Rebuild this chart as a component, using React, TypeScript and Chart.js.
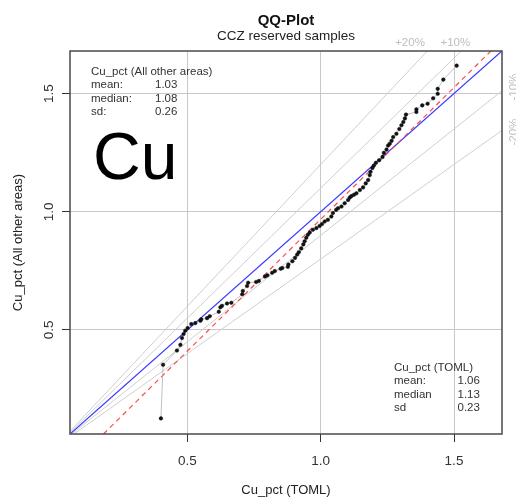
import React, { useEffect, useRef } from "react";
import { Chart, registerables } from "chart.js";

Chart.register(...registerables);

// Quantiles of Cu_pct (TOML) -> x
const tomlQuantiles = [
  0.401, 0.409, 0.461, 0.474, 0.48, 0.486, 0.492, 0.501, 0.515, 0.53, 0.549, 0.552, 0.574, 0.584,
  0.618, 0.624, 0.63, 0.649, 0.665, 0.706, 0.708, 0.724, 0.728, 0.758, 0.768, 0.791, 0.8, 0.818,
  0.828, 0.85, 0.856, 0.877, 0.879, 0.894, 0.904, 0.912, 0.918, 0.927, 0.935, 0.94, 0.946, 0.952,
  0.959, 0.971, 0.984, 0.996, 1.005, 1.015, 1.027, 1.04, 1.046, 1.058, 1.065, 1.078, 1.09, 1.103,
  1.109, 1.115, 1.125, 1.134, 1.147, 1.159, 1.169, 1.178, 1.184, 1.187, 1.194, 1.199, 1.207, 1.219,
  1.232, 1.237, 1.247, 1.253, 1.259, 1.266, 1.272, 1.284, 1.295, 1.303, 1.31, 1.316, 1.32, 1.359,
  1.359, 1.381, 1.401, 1.422, 1.439, 1.439, 1.46, 1.51,
];
// Quantiles of Cu_pct (All other areas) -> y
const otherQuantiles = [
  0.126, 0.353, 0.413, 0.437, 0.466, 0.483, 0.497, 0.508, 0.525, 0.529, 0.539, 0.545, 0.55, 0.558,
  0.577, 0.596, 0.602, 0.612, 0.615, 0.651, 0.665, 0.686, 0.7, 0.703, 0.707, 0.726, 0.731, 0.742,
  0.749, 0.759, 0.762, 0.767, 0.777, 0.791, 0.805, 0.819, 0.829, 0.845, 0.862, 0.875, 0.89, 0.903,
  0.912, 0.924, 0.931, 0.94, 0.948, 0.959, 0.966, 0.98, 0.995, 1.008, 1.015, 1.022, 1.036, 1.05,
  1.06, 1.066, 1.072, 1.078, 1.092, 1.103, 1.12, 1.134, 1.155, 1.169, 1.185, 1.195, 1.207, 1.218,
  1.232, 1.249, 1.263, 1.28, 1.288, 1.3, 1.316, 1.33, 1.35, 1.366, 1.38, 1.395, 1.411, 1.422,
  1.433, 1.45, 1.457, 1.48, 1.499, 1.52, 1.559, 1.618,
];

const axisMin = 0.06;
const axisMax = 1.68;
const tickValues = [0.5, 1.0, 1.5];
const tickLabels = ["0.5", "1.0", "1.5"];

const envelopeRatios = [1.2, 1.1, 0.9, 0.8];
const topLabels = ["+20%", "+10%"];
const topLabelX = [1.335, 1.505];
const rightLabels = ["-10%", "-20%"];
const rightLabelY = [1.527, 1.337];

const fitSlope = 1.115;
const fitIntercept = -0.147;

const titleText = "QQ-Plot";
const subtitleText = "CCZ reserved samples";
const xTitle = "Cu_pct (TOML)";
const yTitle = "Cu_pct (All other areas)";
const elementText = "Cu";

const otherStatTitle = "Cu_pct (All other areas)";
const otherStatNames = ["mean:", "median:", "sd:"];
const otherStatValues = ["1.03", "1.08", "0.26"];
const tomlStatTitle = "Cu_pct (TOML)";
const tomlStatNames = ["mean:", "median", "sd"];
const tomlStatValues = ["1.06", "1.13", "0.23"];

const FONT = '"Liberation Sans", Arial, Helvetica, sans-serif';

const annotatePlugin = {
  id: "annotate",
  afterDraw(chart: any) {
    const ctx = chart.ctx as CanvasRenderingContext2D;
    const area = chart.chartArea;
    const xs = chart.scales.x;
    const ys = chart.scales.y;
    ctx.save();

    // box
    ctx.strokeStyle = "#4a4a4a";
    ctx.lineWidth = 1.5;
    ctx.strokeRect(area.left, area.top, area.right - area.left, area.bottom - area.top);

    // titles
    ctx.fillStyle = "#111";
    ctx.textAlign = "center";
    ctx.textBaseline = "alphabetic";
    const cx = (area.left + area.right) / 2;
    ctx.font = `bold 15px ${FONT}`;
    ctx.fillText(titleText, cx, 25);
    ctx.font = `13.5px ${FONT}`;
    ctx.fillStyle = "#222";
    ctx.fillText(subtitleText, cx, 40);

    // x tick labels
    ctx.fillStyle = "#333";
    ctx.font = `13.5px ${FONT}`;
    tickValues.forEach((v, i) => {
      ctx.fillText(tickLabels[i], xs.getPixelForValue(v), 465);
    });
    // y tick labels (rotated)
    tickValues.forEach((v, i) => {
      ctx.save();
      ctx.translate(53, ys.getPixelForValue(v));
      ctx.rotate(-Math.PI / 2);
      ctx.fillText(tickLabels[i], 0, 0);
      ctx.restore();
    });

    // axis titles
    ctx.font = `13px ${FONT}`;
    ctx.fillStyle = "#222";
    ctx.fillText(xTitle, cx, 494);
    ctx.save();
    ctx.translate(22, (area.top + area.bottom) / 2);
    ctx.rotate(-Math.PI / 2);
    ctx.fillText(yTitle, 0, 0);
    ctx.restore();

    // envelope labels
    ctx.fillStyle = "#bdbdbd";
    ctx.font = `11.5px ${FONT}`;
    topLabels.forEach((t, i) => {
      ctx.fillText(t, xs.getPixelForValue(topLabelX[i]), 46);
    });
    rightLabels.forEach((t, i) => {
      ctx.save();
      ctx.translate(517, ys.getPixelForValue(rightLabelY[i]));
      ctx.rotate(-Math.PI / 2);
      ctx.fillText(t, 0, 0);
      ctx.restore();
    });

    // stats boxes
    ctx.textAlign = "left";
    ctx.fillStyle = "#333";
    ctx.font = `11.5px ${FONT}`;
    ctx.fillText(otherStatTitle, 91, 75);
    otherStatNames.forEach((n, i) => {
      ctx.fillText(n, 91, 88.3 + i * 13.3);
      ctx.fillText(otherStatValues[i], 155, 88.3 + i * 13.3);
    });
    ctx.fillText(tomlStatTitle, 394, 371);
    tomlStatNames.forEach((n, i) => {
      ctx.fillText(n, 394, 384.2 + i * 13.3);
      ctx.fillText(tomlStatValues[i], 457.5, 384.2 + i * 13.3);
    });

    // element label
    ctx.fillStyle = "#000";
    ctx.font = `66px ${FONT}`;
    ctx.fillText(elementText, 93, 179);

    ctx.restore();
  },
};

export default function App() {
  const canvasRef = useRef<HTMLCanvasElement | null>(null);

  useEffect(() => {
    if (!canvasRef.current) return;
    const points = tomlQuantiles.map((x, i) => ({ x, y: otherQuantiles[i] }));

    const envelopeSets = envelopeRatios.map((r) => {
      const x0 = Math.max(axisMin, axisMin / r);
      const x1 = Math.min(axisMax, axisMax / r);
      return {
        label: `ratio ${r}`,
        data: [
          { x: x0, y: x0 * r },
          { x: x1, y: x1 * r },
        ],
        showLine: true,
        borderColor: "#cfcfcf",
        borderWidth: 1,
        pointRadius: 0,
        order: 5,
      };
    });

    const fx0 = (axisMin - fitIntercept) / fitSlope;
    const fx1 = (axisMax - fitIntercept) / fitSlope;

    const chart = new Chart(canvasRef.current, {
      type: "scatter",
      data: {
        datasets: [
          {
            label: "QQ",
            data: points,
            showLine: true,
            borderColor: "#b0b0b0",
            borderWidth: 0.8,
            pointRadius: 1.8,
            pointBackgroundColor: "#111",
            pointBorderColor: "#111",
            pointBorderWidth: 0.5,
            order: 1,
          },
          {
            label: "fit",
            data: [
              { x: fx0, y: axisMin },
              { x: fx1, y: axisMax },
            ],
            showLine: true,
            borderColor: "#ff4a4a",
            borderWidth: 1.2,
            borderDash: [5, 4],
            pointRadius: 0,
            order: 2,
          },
          {
            label: "1:1",
            data: [
              { x: axisMin, y: axisMin },
              { x: axisMax, y: axisMax },
            ],
            showLine: true,
            borderColor: "#3a3aff",
            borderWidth: 1.3,
            pointRadius: 0,
            order: 3,
          },
          ...envelopeSets,
        ],
      },
      options: {
        responsive: false,
        devicePixelRatio: 1,
        animation: false,
        layout: { padding: { left: 0, right: 14, top: 51, bottom: 0 } },
        plugins: {
          legend: { display: false },
          tooltip: { enabled: false },
          title: { display: false },
        },
        scales: {
          x: {
            type: "linear",
            min: axisMin,
            max: axisMax,
            afterBuildTicks: (s: any) => {
              s.ticks = tickValues.map((v) => ({ value: v }));
            },
            afterFit: (s: any) => {
              s.height = 66;
            },
            ticks: { display: false },
            grid: {
              color: "#c8c8c8",
              lineWidth: 1,
              tickColor: "#333",
              tickLength: 8,
              drawTicks: true,
            },
            border: { display: false },
          },
          y: {
            type: "linear",
            min: axisMin,
            max: axisMax,
            afterBuildTicks: (s: any) => {
              s.ticks = tickValues.map((v) => ({ value: v }));
            },
            afterFit: (s: any) => {
              s.width = 70;
            },
            ticks: { display: false },
            grid: {
              color: "#c8c8c8",
              lineWidth: 1,
              tickColor: "#333",
              tickLength: 8,
              drawTicks: true,
            },
            border: { display: false },
          },
        },
      },
      plugins: [annotatePlugin],
    } as any);

    return () => chart.destroy();
  }, []);

  return (
    <div style={{ position: "absolute", left: 0, top: 0, width: 516, height: 500, background: "#fff" }}>
      <canvas ref={canvasRef} width={516} height={500} style={{ display: "block" }} />
    </div>
  );
}
